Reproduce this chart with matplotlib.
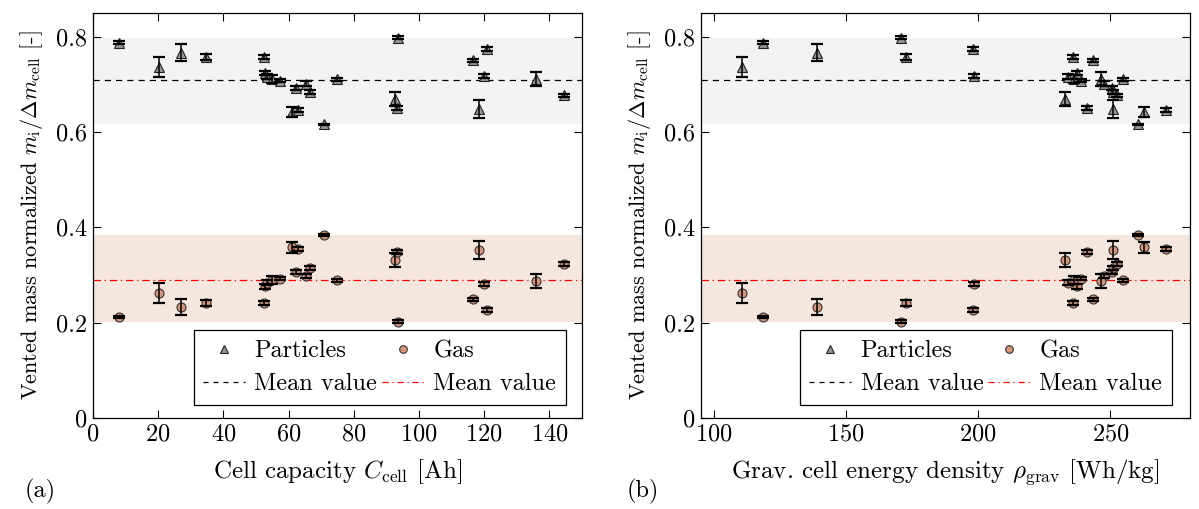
import numpy as np
import matplotlib
matplotlib.use("Agg")
import matplotlib.pyplot as plt
from matplotlib.lines import Line2D

plt.rcParams['font.family'] = ['cmr10', 'DejaVu Serif']
plt.rcParams['mathtext.fontset'] = 'cm'
plt.rcParams['axes.formatter.use_mathtext'] = True
plt.rcParams['font.size'] = 17

# ---- data ----
capacity = [8.0, 20.2, 27.0, 34.8, 52.4, 52.7, 53.5, 55.0, 57.3, 61.0, 62.4, 63.0, 65.2,
            66.7, 70.8, 74.9, 92.6, 93.3, 93.5, 116.7, 118.5, 119.9, 120.9, 135.9, 144.4]
energy_density = [118.6, 110.7, 139.0, 172.7, 235.9, 237.4, 233.8, 236.3, 238.9, 262.9, 250.5,
                  271.1, 247.7, 250.9, 260.6, 254.8, 232.8, 241.2, 170.6, 243.6, 250.9, 198.4,
                  198.1, 246.5, 252.5]
particles = [0.788, 0.737, 0.767, 0.758, 0.758, 0.724, 0.716, 0.711, 0.708, 0.642, 0.693, 0.646,
             0.702, 0.685, 0.616, 0.711, 0.669, 0.651, 0.798, 0.751, 0.648, 0.718, 0.774, 0.712,
             0.677]
error = [0.003, 0.021, 0.017, 0.006, 0.004, 0.005, 0.005, 0.008, 0.003, 0.011, 0.004, 0.004,
         0.005, 0.004, 0.002, 0.003, 0.015, 0.004, 0.003, 0.003, 0.019, 0.004, 0.004, 0.015,
         0.004]
gas = [1 - p for p in particles]

yticks = [0, 0.2, 0.4, 0.6, 0.8]
yticklabels = ["0", "0.2", "0.4", "0.6", "0.8"]
xticks_a = [0, 20, 40, 60, 80, 100, 120, 140]
xticks_b = [100, 150, 200, 250]

c_part = "#959595"
c_gas = "#d4957b"
band_part = "#f3f3f3"
band_gas = "#f5e7de"

fig = plt.figure(figsize=(11.99, 5.09), dpi=100)
W, H = 1199, 509
ax_a = fig.add_axes([93 / W, 1 - 418 / H, (582 - 93) / W, (418 - 13) / H])
ax_b = fig.add_axes([701 / W, 1 - 418 / H, (1189.5 - 701) / W, (418 - 13) / H])

p = np.array(particles)
g = np.array(gas)

TICK_FS = 17.5
LEG_FS = 17.5
XL_FS = 18
YL_FS = 16

def draw(ax, x, xlim, xticks, xlabel, legend_x):
    ax.axhspan(p.min(), p.max(), color=band_part, lw=0, zorder=0)
    ax.axhspan(g.min(), g.max(), color=band_gas, lw=0, zorder=0)
    ax.axhline(p.mean(), color="black", ls=(0, (5, 4)), lw=0.9, zorder=1)
    ax.axhline(g.mean(), color="red", ls=(0, (6, 3, 1, 3)), lw=0.9, zorder=1)
    ax.plot(x, particles, ls="none", marker="^", ms=7.5, mfc=c_part, mec="#222222", mew=0.8, zorder=3)
    ax.plot(x, gas, ls="none", marker="o", ms=6.5, mfc=c_gas, mec="#333333", mew=0.8, zorder=3)
    ax.errorbar(x, particles, yerr=error, fmt="none", ecolor="black", elinewidth=1.1,
                capsize=4, capthick=1.6, zorder=4)
    ax.errorbar(x, gas, yerr=error, fmt="none", ecolor="black", elinewidth=1.1,
                capsize=4, capthick=1.6, zorder=4)
    ax.set_xlim(*xlim)
    ax.set_ylim(0, 0.85)
    ax.set_xticks(xticks)
    ax.set_yticks(yticks)
    ax.set_yticklabels(yticklabels)
    ax.tick_params(direction="in", top=True, right=True, length=6, width=0.8,
                   labelsize=TICK_FS, pad=4)
    for s in ax.spines.values():
        s.set_linewidth(0.9)
    ax.set_xlabel(xlabel, fontsize=XL_FS, labelpad=8)
    ax.set_ylabel(r"Vented mass normalized $m_\mathrm{i}/\Delta m_\mathrm{cell}$ [-]",
                  fontsize=YL_FS, labelpad=8)
    handles = [
        Line2D([], [], ls="none", marker="^", ms=6, mfc=c_part, mec="#222222", mew=0.8),
        Line2D([], [], color="black", ls=(0, (4, 4)), lw=0.9),
        Line2D([], [], ls="none", marker="o", ms=5.5, mfc=c_gas, mec="#333333", mew=0.8),
        Line2D([], [], color="red", ls=(0, (5, 3, 1, 3)), lw=0.9),
    ]
    labels = ["Particles", "Mean value", "Gas", "Mean value"]
    leg = ax.legend(handles, labels, ncol=2, loc="lower right", bbox_to_anchor=legend_x,
                    fontsize=LEG_FS, frameon=True, fancybox=False, edgecolor="black",
                    framealpha=1, columnspacing=0.2, handletextpad=0.4, handlelength=1.7,
                    borderpad=0.4, labelspacing=0.45, borderaxespad=0)
    leg.get_frame().set_linewidth(0.9)

draw(ax_a, capacity, (0, 150), xticks_a, r"Cell capacity $C_\mathrm{cell}$ [Ah]", (0.967, 0.032))
draw(ax_b, energy_density, (95, 280), xticks_b,
     r"Grav. cell energy density $\rho_\mathrm{grav}$ [Wh/kg]", (0.964, 0.032))

fig.text(40 / W, 1 - 491 / H, "(a)", fontsize=17.5, ha="center", va="center")
fig.text(643 / W, 1 - 491 / H, "(b)", fontsize=17.5, ha="center", va="center")

fig.savefig("out.png", dpi=100)
